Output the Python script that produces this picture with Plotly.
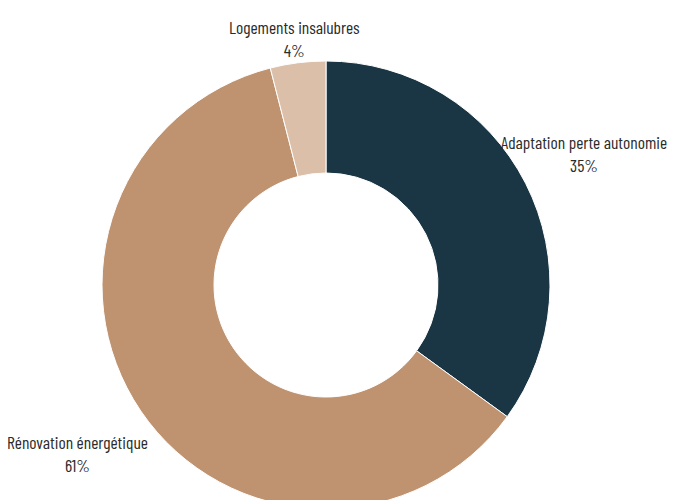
import math
import plotly.graph_objects as go

labels = ["Adaptation perte autonomie", "Rénovation énergétique", "Logements insalubres"]
values = [35, 61, 4]
colors = ["#1a3543", "#c09370", "#dbbfa8"]

# label placement (style): radial distance of each label centre from the pie centre, in px
label_dist = [290, 300, 248]

W, H = 672, 521
M = dict(t=53, b=20, l=60, r=96)
pw = W - M["l"] - M["r"]
ph = H - M["t"] - M["b"]
FONT = "Barlow Condensed, Liberation Sans Narrow, Arial Narrow, sans-serif"

fig = go.Figure(go.Pie(
    labels=labels,
    values=values,
    hole=0.5,
    sort=False,
    direction="clockwise",
    rotation=0,
    marker=dict(colors=colors, line=dict(color="white", width=1)),
    textinfo="none",
    hoverinfo="label+percent",
    showlegend=False,
))

total = sum(values)
cum = 0
for lab, v, d in zip(labels, values, label_dist):
    mid = (cum + v / 2) / total * 2 * math.pi
    cum += v
    x = 0.5 + d * math.sin(mid) / pw
    y = 0.5 + d * math.cos(mid) / ph
    fig.add_annotation(
        x=x, y=y, xref="paper", yref="paper",
        text=f"{lab}<br>{round(v / total * 100)}%",
        showarrow=False, xanchor="center", yanchor="middle",
        font=dict(family=FONT, size=17.5, color="#2b2b2b"),
    )

fig.update_layout(
    width=W, height=H,
    margin=dict(**M, autoexpand=False),
    paper_bgcolor="white",
    plot_bgcolor="white",
)
fig.write_html("out.html")
